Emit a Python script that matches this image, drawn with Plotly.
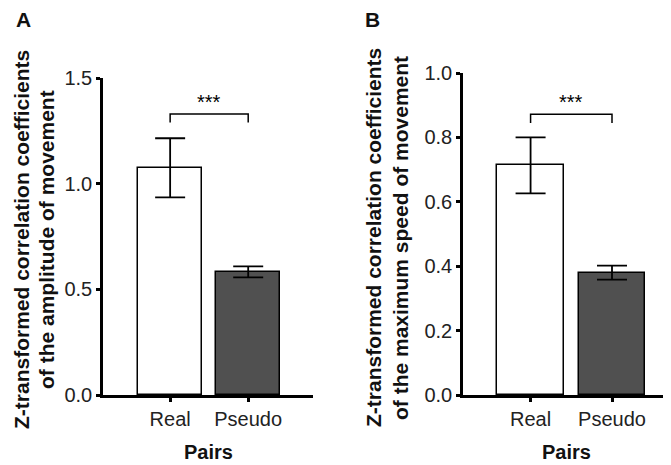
import plotly.graph_objects as go

categories = ["Real", "Pseudo"]
amp_means = [1.075, 0.583]
amp_sem = [0.140, 0.026]
speed_means = [0.713, 0.380]
speed_sem = [0.087, 0.022]
bar_colors = ["#ffffff", "#505050"]
amp_ticks = [0.0, 0.5, 1.0, 1.5]
speed_ticks = [0.0, 0.2, 0.4, 0.6, 0.8, 1.0]

FONT = "Liberation Sans, Arial, sans-serif"
OFF = 8  # page body margin
W, H = 671 - OFF, 465 - OFF

fig = go.Figure()
for means, sem, xa, ya in [(amp_means, amp_sem, "x", "y"), (speed_means, speed_sem, "x2", "y2")]:
    fig.add_trace(go.Bar(
        x=categories, y=means, xaxis=xa, yaxis=ya, width=0.82,
        marker=dict(color=bar_colors, line=dict(color="black", width=1.5)),
        error_y=dict(type="data", array=sem, visible=True, color="black", thickness=1.8, width=15),
        showlegend=False,
    ))

def px_x(p):
    return (p - OFF) / W

def px_y(p):
    return 1 - (p - OFF) / H

axis_common = dict(showgrid=False, zeroline=False, showline=True, linecolor="black", linewidth=2.5,
                   ticks="outside", tickcolor="black", tickwidth=2.5, ticklen=4, automargin=False,
                   tickfont=dict(family=FONT, size=20, color="#222"))

fig.update_layout(
    template="none",
    width=W, height=H, margin=dict(l=0, r=0, t=0, b=0, pad=0, autoexpand=False),
    plot_bgcolor="white", paper_bgcolor="white", bargap=0,
    xaxis=dict(domain=[px_x(103), px_x(313)], range=[-0.86, 1.83], anchor="y", **axis_common),
    yaxis=dict(domain=[px_y(395), px_y(78)], range=[0, 1.5], tickvals=amp_ticks,
               ticktext=[f"{v:.1f}" for v in amp_ticks], anchor="x", **axis_common),
    xaxis2=dict(domain=[px_x(463), px_x(669)], range=[-0.83, 1.7], anchor="y2", **axis_common),
    yaxis2=dict(domain=[px_y(395), px_y(73)], range=[0, 1.0], tickvals=speed_ticks,
                ticktext=[f"{v:.1f}" for v in speed_ticks], anchor="x2", **axis_common),
)

# significance brackets
for xr, yr, top, leg in [("x", "y", 1.33, 1.29), ("x2", "y2", 0.872, 0.845)]:
    fig.add_shape(type="path", xref=xr, yref=yr,
                  path=f"M 0 {leg} L 0 {top} L 1 {top} L 1 {leg}",
                  line=dict(color="black", width=1.5))
    fig.add_annotation(x=0.5, y=top, xref=xr, yref=yr, text="***", showarrow=False,
                       yanchor="bottom", yshift=-1, font=dict(family=FONT, size=20, color="black"))

# panel letters (anchored at the top edge of the figure)
for x, t in [(23, "<b>A</b>"), (372, "<b>B</b>")]:
    fig.add_annotation(x=px_x(x), y=1, xref="paper", yref="paper", text=t, showarrow=False,
                       xanchor="center", yanchor="top", yshift=2,
                       font=dict(family=FONT, size=21, color="#111"))

# axis titles
ann = [
    (209, 452, "<b>Pairs</b>", 0, 20),
    (566, 452, "<b>Pairs</b>", 0, 20),
    (21, 240, "<b>Z-transformed correlation coefficients</b>", -90, 21),
    (46, 240, "<b>of the amplitude of movement</b>", -90, 21),
    (374, 238, "<b>Z-transformed correlation coefficients</b>", -90, 21),
    (401, 238, "<b>of the maximum speed of movement</b>", -90, 21),
]
for x, y, t, ang, sz in ann:
    fig.add_annotation(x=px_x(x), y=px_y(y), xref="paper", yref="paper", text=t, textangle=ang,
                       showarrow=False, xanchor="center", yanchor="middle",
                       font=dict(family=FONT, size=sz, color="#111"))

fig.write_html("out.html")
